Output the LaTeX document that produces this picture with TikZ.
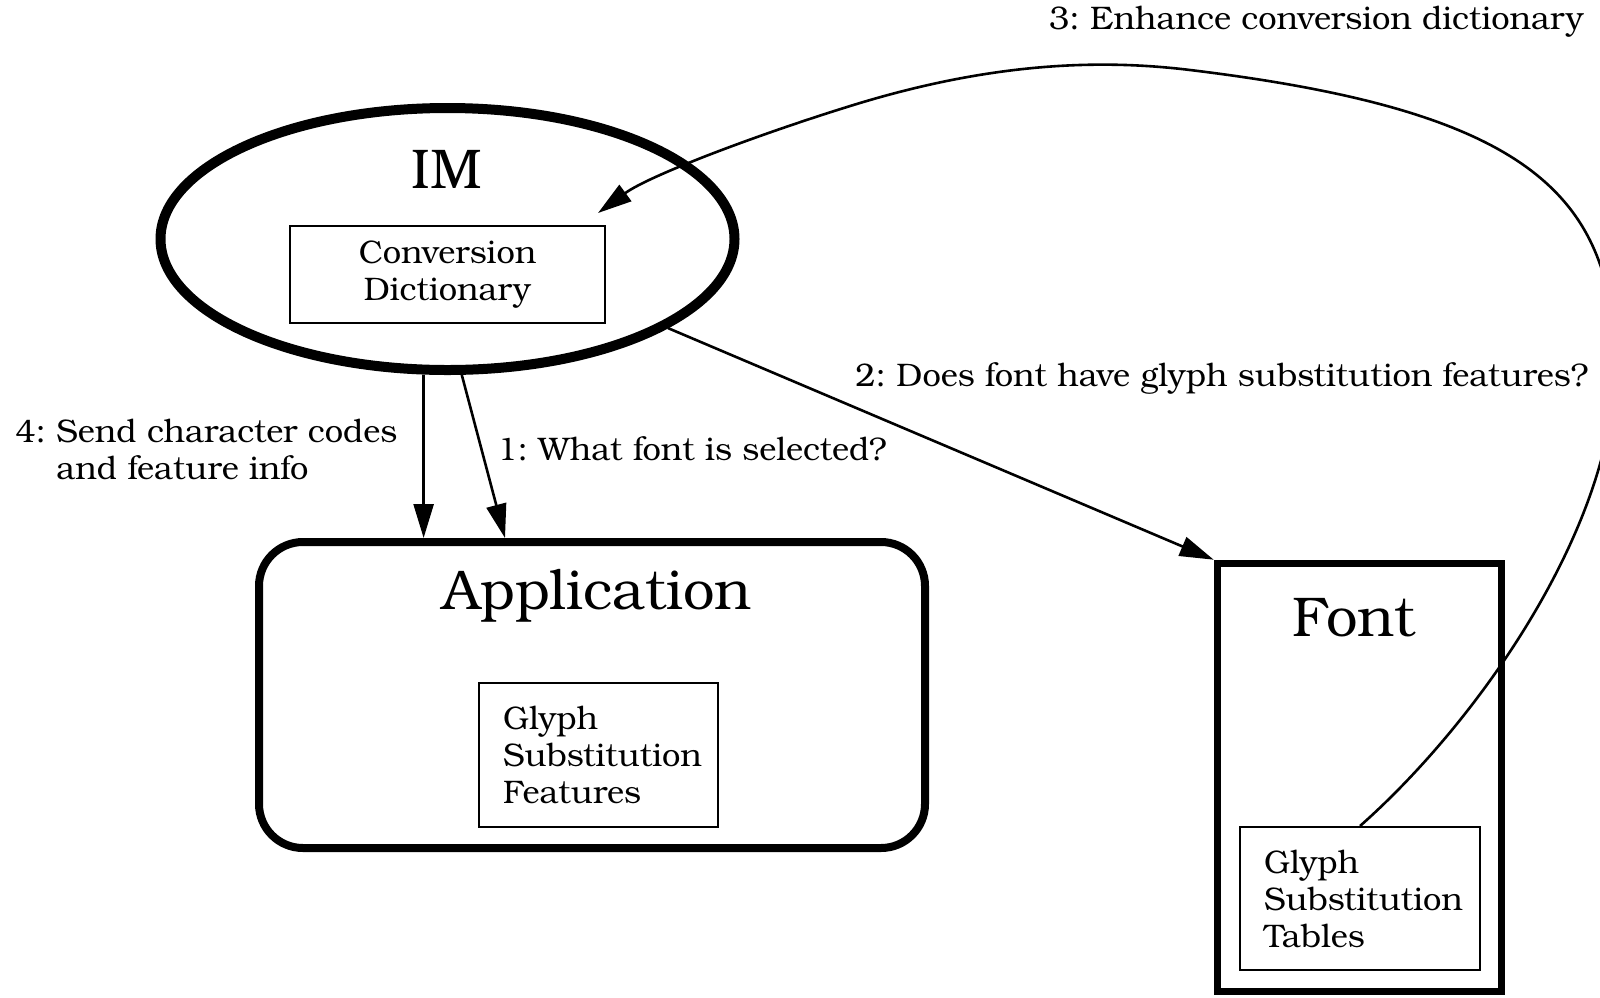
\documentclass[tikz,border=0pt]{standalone}
\usepackage{fontspec}
\setmainfont{TeX Gyre Bonum}
\usetikzlibrary{shapes.geometric, arrows.meta}
\frenchspacing
\begin{document}
\begin{tikzpicture}[x=0.5pt, y=-0.5pt,
  small/.style={font=\fontsize{16.3pt}{18.5pt}\selectfont},
  big/.style={font=\fontsize{28pt}{34pt}\selectfont},
  conn/.style={line width=1.3pt, -{Triangle[length=17pt,width=10pt]}},
  inbox/.style={draw, line width=1pt, small},
  lbl/.style={small, inner sep=0pt}
]
\useasboundingbox (0,0) rectangle (1600,997);

\node[ellipse, draw, line width=5pt, minimum width=287pt, minimum height=131pt, inner sep=0pt] (im) at (447.5,239) {};
\node[big] (imlabel) at (447,169) {IM};
\node[inbox, minimum width=157.5pt, minimum height=48.5pt, align=center] (conv) at (447.5,274.5) {Conversion\\Dictionary};

\node[draw, rounded corners=22pt, line width=4pt, minimum width=333pt, minimum height=153pt] (app) at (592,695) {};
\node[big] (applabel) at (597,596) {Application};
\node[inbox, inner xsep=12pt, text width=95.5pt, minimum height=72pt, align=left] (gsf) at (598.5,755) {Glyph\\Substitution\\Features};

\node[draw, line width=3.8pt, minimum width=142pt, minimum height=214pt] (font) at (1359.5,777.5) {};
\node[big] (fontlabel) at (1354,618) {Font};
\node[inbox, inner xsep=12pt, text width=96pt, minimum height=71.5pt, align=left] (gst) at (1360,898.5) {Glyph\\Substitution\\Tables};

\draw[conn] (im.260) -- (app.north -| im.260);
\draw[conn] (im.276) -- ([xshift=-43.5pt]app.north);
\draw[conn] (im.-22) -- (font.north west);
\draw[conn] (gst.north) .. controls (1480,720) and (1620,520) .. (1615,355)
  .. controls (1610,190) and (1520,110) .. (1190,70)
  .. controls (1100,59) and (990,62) .. (847,107)
  .. controls (760,134) and (650,175) .. ([shift={(-4pt,6pt)}]conv.north east);

\node[lbl, anchor=east] (l3) at (1584,22) {3: Enhance conversion dictionary};
\node[lbl, anchor=west] (l2) at (855,378) {2: Does font have glyph substitution features?};
\node[lbl, anchor=west] (l1) at (497,449) {1: What font is selected?};
\node[lbl, anchor=west, align=left] (l4) at (15,450) {4: Send character codes\\\phantom{4: }and feature info};
\end{tikzpicture}
\end{document}
